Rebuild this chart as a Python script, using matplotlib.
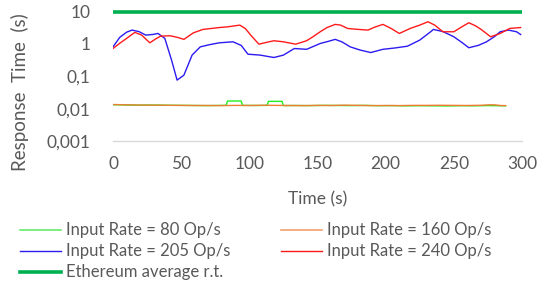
import matplotlib
matplotlib.use("Agg")
import matplotlib.pyplot as plt
import matplotlib.lines as mlines

plt.rcParams['font.family'] = ['Lato', 'DejaVu Sans']

# ---- data ----
t_205 = [0, 5, 10, 14, 19, 24, 29, 33, 38, 43, 47, 52, 58, 64, 71, 78, 88, 94, 99, 108, 118, 125, 133, 142, 152,
         158, 163, 168, 174, 181, 189, 198, 207, 216, 225, 233, 235, 242, 250, 256, 261, 268, 274, 280, 284, 290, 296, 299]
v_205 = [0.81, 1.6, 2.3, 2.67, 2.4, 1.87, 1.95, 2.1, 1.48, 0.31, 0.076, 0.108, 0.45, 0.81, 0.95, 1.08, 1.16, 0.9, 0.48,
         0.45, 0.38, 0.45, 0.72, 0.68, 1.03, 1.2, 1.38, 1.15, 0.81, 0.65, 0.54, 0.68, 0.75, 0.85, 1.31, 2.37, 2.8, 2.4,
         1.66, 1.1, 0.76, 0.9, 1.16, 1.7, 2.37, 2.67, 2.37, 1.95]

t_240 = [0, 5, 9, 16, 21, 27, 31, 35, 42, 47, 52, 59, 66, 78, 84, 93, 97, 101, 107, 112, 118, 125, 134, 142, 147, 152,
         157, 163, 167, 172, 180, 187, 192, 198, 204, 210, 218, 225, 231, 236, 242, 250, 256, 261, 266, 270, 277, 284, 291, 299]
v_240 = [0.72, 1.05, 1.38, 2.27, 1.87, 1.08, 1.4, 1.74, 1.78, 1.6, 1.38, 2.2, 2.8, 3.2, 3.36, 3.8, 3.0, 1.87, 0.98,
         1.1, 1.25, 1.16, 0.98, 1.25, 1.7, 2.37, 3.2, 4.0, 3.8, 3.0, 2.8, 2.67, 3.3, 4.0, 3.0, 2.1, 3.0, 3.8, 4.83, 3.8,
         2.37, 2.37, 3.4, 4.5, 3.6, 2.8, 1.66, 2.1, 3.0, 3.2]

t_80 = [0, 10, 20, 30, 40, 50, 60, 70, 80, 83, 84, 94, 95, 105, 113, 114, 124, 125, 135, 145, 155, 165, 175, 185,
        195, 205, 215, 225, 235, 245, 255, 265, 275, 282, 288]
v_80 = [0.0132, 0.0130, 0.0128, 0.0129, 0.0127, 0.0126, 0.0125, 0.0124, 0.0126, 0.0127, 0.0172, 0.0172, 0.0126, 0.0125,
        0.0126, 0.0168, 0.0168, 0.0124, 0.0125, 0.0124, 0.0126, 0.0125, 0.0124, 0.0126, 0.0123, 0.0124, 0.0122,
        0.0123, 0.0122, 0.0121, 0.0123, 0.0122, 0.0124, 0.0123, 0.0122]

t_160 = [0, 10, 20, 30, 40, 50, 60, 70, 80, 90, 100, 110, 120, 130, 140, 150, 160, 170, 180, 190, 200, 210, 220,
         230, 240, 250, 260, 270, 276, 280, 284, 288]
v_160 = [0.0134, 0.0131, 0.0129, 0.0128, 0.0127, 0.0126, 0.0125, 0.0125, 0.0124, 0.0126, 0.0125, 0.0127, 0.0126,
         0.0125, 0.0124, 0.0126, 0.0125, 0.0128, 0.0126, 0.0124, 0.0125, 0.0124, 0.0126, 0.0126, 0.0127, 0.0126,
         0.0125, 0.0127, 0.0131, 0.0131, 0.0125, 0.0124]

t_eth = [0, 300]
v_eth = [10, 10]

yticks = [0.001, 0.01, 0.1, 1, 10]
ytick_labels = ["0,001", "0,01", "0,1", "1", "10"]
xticks = [0, 50, 100, 150, 200, 250, 300]

labels = ["Input Rate = 80 Op/s", "Input Rate = 160 Op/s", "Input Rate = 205 Op/s",
          "Input Rate = 240 Op/s", "Ethereum average r.t."]

txt = "#595959"
fig = plt.figure(figsize=(5.42, 2.88), dpi=100)
ax = fig.add_axes([0.2085, 0.5104, 0.7546, 0.4496])

l80, = ax.plot(t_80, v_80, color="#22EE22", lw=1.0)
l160, = ax.plot(t_160, v_160, color="#ED7D31", lw=1.0)
l205, = ax.plot(t_205, v_205, color="#2B1BF0", lw=1.0)
l240, = ax.plot(t_240, v_240, color="#FF1A1A", lw=1.0)
leth, = ax.plot(t_eth, v_eth, color="#00B050", lw=2.6, clip_on=False, solid_capstyle="butt")

ax.set_yscale("log")
ax.set_ylim(0.001, 10)
ax.set_xlim(0, 300)
ax.set_yticks(yticks)
ax.set_yticklabels(ytick_labels)
ax.minorticks_off()
ax.set_xticks(xticks)
ax.tick_params(axis="both", length=0, colors=txt, labelsize=12.5)
ax.tick_params(axis="y", pad=16)
ax.tick_params(axis="x", pad=11)
for s in ["top", "right", "left"]:
    ax.spines[s].set_visible(False)
ax.spines["bottom"].set_color("#D9D9D9")
ax.spines["bottom"].set_linewidth(1.0)

ax.set_xlabel("Time (s)", color=txt, fontsize=12.5, labelpad=14)
ax.set_ylabel("Response  Time  (s)", color=txt, fontsize=13.5)
ax.yaxis.set_label_coords(-0.205, 0.38)

# legend: column-major order
h80 = mlines.Line2D([], [], color="#66EE66", lw=1.2)
h160 = mlines.Line2D([], [], color="#F4A070", lw=1.2)
h205 = mlines.Line2D([], [], color="#2B1BF0", lw=1.0)
h240 = mlines.Line2D([], [], color="#FF1A1A", lw=1.0)
heth = mlines.Line2D([], [], color="#00B050", lw=2.6)
hlabels = [labels[0], labels[2], labels[4], labels[1], labels[3]]
leg = fig.legend([h80, h205, heth, h160, h240], hlabels, ncol=2, loc="upper left",
                 bbox_to_anchor=(0.037, 0.228), frameon=False, fontsize=12,
                 handlelength=2.45, handletextpad=0.33, columnspacing=3.0,
                 labelspacing=0.3, borderaxespad=0, borderpad=0)
for t in leg.get_texts():
    t.set_color(txt)

fig.savefig("out.png", dpi=100)
